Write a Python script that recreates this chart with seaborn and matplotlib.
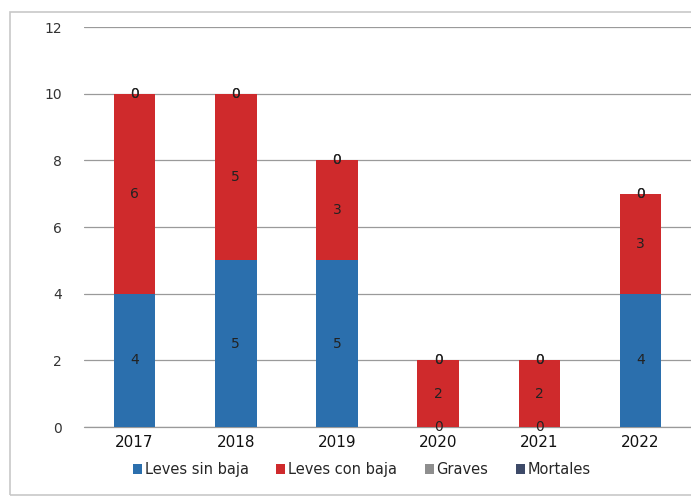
import numpy as np
import pandas as pd
import matplotlib
matplotlib.use("Agg")
import matplotlib.pyplot as plt
from matplotlib.patches import Rectangle
import seaborn as sns

# Data
years = ["2017", "2018", "2019", "2020", "2021", "2022"]
leves_sin_baja = [4, 5, 5, 0, 0, 4]
leves_con_baja = [6, 5, 3, 2, 2, 3]
graves = [0, 0, 0, 0, 0, 0]
mortales = [0, 0, 0, 0, 0, 0]

series_names = ["Leves sin baja", "Leves con baja", "Graves", "Mortales"]
series_values = [leves_sin_baja, leves_con_baja, graves, mortales]
colors = ["#2b6fad", "#cf2a2c", "#8e8e8e", "#3d4a68"]

sns.set_style("white")
plt.rcParams["font.family"] = ["DejaVu Sans"]

fig = plt.figure(figsize=(6.91, 5.01), dpi=100)
ax = fig.add_axes([0.1216, 0.1477, 0.8784, 0.7984])

# outer chart frame
fig.patches.append(Rectangle((10 / 691, 6 / 501), 0.99, 1 - 18 / 501,
                             transform=fig.transFigure, fill=False,
                             edgecolor="#c8c8c8", lw=1.2))

bottom = np.zeros(len(years))
for name, vals, col in zip(series_names, series_values, colors):
    df = pd.DataFrame({"year": years, "value": vals})
    sns.barplot(data=df, x="year", y="value", color=col, width=0.41,
                bottom=bottom, ax=ax, label=name, saturation=1,
                linewidth=0)
    bottom = bottom + np.array(vals)

for cont in ax.containers:
    ax.bar_label(cont, label_type="center", fontsize=10, color="#222222")

ax.set_ylim(0, 12)
ax.set_xlim(-0.5, 5.5)
ax.set_yticks(range(0, 13, 2))
ax.yaxis.grid(True, color="#9a9a9a", lw=0.9)
ax.axhline(0, color="#9a9a9a", lw=0.9, clip_on=False, zorder=0)
ax.set_axisbelow(True)
for s in ax.spines.values():
    s.set_visible(False)
ax.set_xlabel("")
ax.set_ylabel("")
ax.tick_params(axis="x", labelsize=11, colors="#111111", length=0, pad=6)
ax.tick_params(axis="y", labelsize=10, colors="#333333", length=0, pad=16)

handles, labels = ax.get_legend_handles_labels()
ax.legend(handles, labels, ncol=4, frameon=False, loc="upper center",
          bbox_to_anchor=(0.458, -0.055), fontsize=10.5,
          handlelength=0.6, handleheight=0.6, handletextpad=0.2,
          columnspacing=1.9)

fig.savefig("out.png", dpi=100)
